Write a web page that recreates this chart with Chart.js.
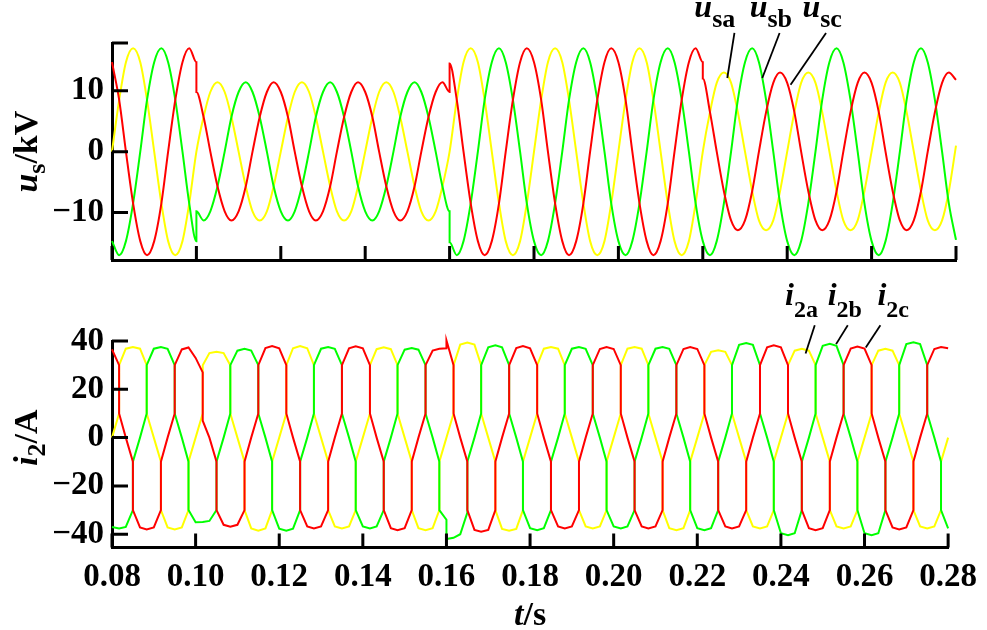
<!DOCTYPE html>
<html>
<head>
<meta charset="utf-8">
<script src="https://cdn.jsdelivr.net/npm/chart.js@4.4.1/dist/chart.umd.min.js"></script>
<style>
  html, body { margin: 0; padding: 0; background: #fff; }
  #wrap { position: relative; width: 987px; height: 630px; }
  #cu { position: absolute; left: 0; top: 0; }
  #ci { position: absolute; left: 0; top: 275px; }
</style>
</head>
<body>
<div id="wrap">
  <canvas id="cu" width="987" height="275"></canvas>
  <canvas id="ci" width="987" height="355"></canvas>
</div>
<script>
// x axis ticks (s)
const timeTicks = [0.08, 0.10, 0.12, 0.14, 0.16, 0.18, 0.20, 0.22, 0.24, 0.26, 0.28];
const uTicks = [-10, 0, 10];
const iTicks = [-40, -20, 0, 20, 40];

// voltage samples, kV (step changes at 0.10, 0.16, 0.22 s are doubled time points)
const tU = [
  0.0800, 0.0817, 0.0833, 0.0850, 0.0867, 0.0883, 0.0900, 0.0917, 0.0933, 0.0950, 0.0967, 0.0983, 0.1000,
  0.1000, 0.1017, 0.1033, 0.1050, 0.1067, 0.1083, 0.1100, 0.1117, 0.1133, 0.1150, 0.1167, 0.1183,
  0.1200, 0.1217, 0.1233, 0.1250, 0.1267, 0.1283, 0.1300, 0.1317, 0.1333, 0.1350, 0.1367, 0.1383,
  0.1400, 0.1417, 0.1433, 0.1450, 0.1467, 0.1483, 0.1500, 0.1517, 0.1533, 0.1550, 0.1567, 0.1583, 0.1600,
  0.1600, 0.1617, 0.1633, 0.1650, 0.1667, 0.1683, 0.1700, 0.1717, 0.1733, 0.1750, 0.1767, 0.1783,
  0.1800, 0.1817, 0.1833, 0.1850, 0.1867, 0.1883, 0.1900, 0.1917, 0.1933, 0.1950, 0.1967, 0.1983,
  0.2000, 0.2017, 0.2033, 0.2050, 0.2067, 0.2083, 0.2100, 0.2117, 0.2133, 0.2150, 0.2167, 0.2183, 0.2200,
  0.2200, 0.2217, 0.2233, 0.2250, 0.2267, 0.2283, 0.2300, 0.2317, 0.2333, 0.2350, 0.2367, 0.2383,
  0.2400, 0.2417, 0.2433, 0.2450, 0.2467, 0.2483, 0.2500, 0.2517, 0.2533, 0.2550, 0.2567, 0.2583,
  0.2600, 0.2617, 0.2633, 0.2650, 0.2667, 0.2683, 0.2700, 0.2717, 0.2733, 0.2750, 0.2767, 0.2783, 0.2800
];
const usa = [
  0, 8.5, 14.7, 17.0, 14.7, 8.5, 0, -8.5, -14.7, -17.0, -14.7, -8.5, 0,
  null, 5.7, 9.8, 11.4, 9.8, 5.7, 0, -5.7, -9.8, -11.3, -9.8, -5.7,
  0, 5.7, 9.8, 11.4, 9.8, 5.7, 0, -5.7, -9.8, -11.3, -9.8, -5.7,
  0, 5.7, 9.8, 11.4, 9.8, 5.7, 0, -5.7, -9.8, -11.3, -9.8, -5.7, 0,
  null, 8.5, 14.7, 17.0, 14.7, 8.5, 0, -8.5, -14.7, -17.0, -14.7, -8.5,
  0, 8.5, 14.7, 17.0, 14.7, 8.5, 0, -8.5, -14.7, -17.0, -14.7, -8.5,
  0, 8.5, 14.7, 17.0, 14.7, 8.5, 0, -8.5, -14.7, -17.0, -14.7, -8.5, 0,
  null, 6.5, 11.3, 13.0, 11.3, 6.5, 0, -6.5, -11.3, -12.9, -11.3, -6.5,
  0, 6.5, 11.3, 13.0, 11.3, 6.5, 0, -6.5, -11.3, -12.9, -11.3, -6.5,
  0, 6.5, 11.3, 13.0, 11.3, 6.5, 0, -6.5, -11.3, -12.9, -11.3, -6.5, 1.0
];
const usb = [
  -14.7, -17.0, -14.7, -8.5, 0, 8.5, 14.7, 17.0, 14.7, 8.5, 0, -8.5, -14.7,
  -9.8, -11.3, -9.8, -5.7, 0, 5.7, 9.8, 11.4, 9.8, 5.7, 0, -5.7,
  -9.8, -11.3, -9.8, -5.7, 0, 5.7, 9.8, 11.4, 9.8, 5.7, 0, -5.7,
  -9.8, -11.3, -9.8, -5.7, 0, 5.7, 9.8, 11.4, 9.8, 5.7, 0, -5.7, -9.8,
  -14.9, -17.0, -14.7, -8.5, 0, 8.5, 14.7, 17.0, 14.7, 8.5, 0, -8.5,
  -14.7, -17.0, -14.7, -8.5, 0, 8.5, 14.7, 17.0, 14.7, 8.5, 0, -8.5,
  -14.7, -17.0, -14.7, -8.5, 0, 8.5, 14.7, 17.0, 14.7, 8.5, 0, -8.5, -14.7,
  null, -17.0, -14.7, -8.5, 0, 8.5, 14.7, 17.0, 14.7, 8.5, 0, -8.5,
  -14.7, -17.0, -14.7, -8.5, 0, 8.5, 14.7, 17.0, 14.7, 8.5, 0, -8.5,
  -14.7, -17.0, -14.7, -8.5, 0, 8.5, 14.7, 17.0, 14.7, 8.5, 0, -8.5, -14.5
];
const usc = [
  14.7, 8.5, 0, -8.5, -14.7, -17.0, -14.7, -8.5, 0, 8.5, 14.7, 17.0, 14.7,
  9.8, 5.7, 0, -5.7, -9.8, -11.3, -9.8, -5.7, 0, 5.7, 9.8, 11.4,
  9.8, 5.7, 0, -5.7, -9.8, -11.3, -9.8, -5.7, 0, 5.7, 9.8, 11.4,
  9.8, 5.7, 0, -5.7, -9.8, -11.3, -9.8, -5.7, 0, 5.7, 9.8, 11.4, 9.8,
  14.5, 8.5, 0, -8.5, -14.7, -17.0, -14.7, -8.5, 0, 8.5, 14.7, 17.0,
  14.7, 8.5, 0, -8.5, -14.7, -17.0, -14.7, -8.5, 0, 8.5, 14.7, 17.0,
  14.7, 8.5, 0, -8.5, -14.7, -17.0, -14.7, -8.5, 0, 8.5, 14.7, 17.0, 14.7,
  12.0, 6.5, 0, -6.5, -11.3, -12.9, -11.3, -6.5, 0, 6.5, 11.3, 13.0,
  11.3, 6.5, 0, -6.5, -11.3, -12.9, -11.3, -6.5, 0, 6.5, 11.3, 13.0,
  11.3, 6.5, 0, -6.5, -11.3, -12.9, -11.3, -6.5, 0, 6.5, 11.3, 13.0, 11.8
];

// current samples, A (commutation steps are doubled time points)
const tI = [
  0.0800, 0.0817, 0.0817, 0.0833, 0.0850, 0.0850, 0.0867, 0.0883, 0.0883, 0.0900, 0.0917, 0.0917, 0.0933, 0.0950, 0.0950, 0.0967, 0.0983, 0.0983,
  0.1000, 0.1017, 0.1017, 0.1033, 0.1050, 0.1050, 0.1067, 0.1083, 0.1083, 0.1100, 0.1117, 0.1117, 0.1133, 0.1150, 0.1150, 0.1167, 0.1183, 0.1183,
  0.1200, 0.1217, 0.1217, 0.1233, 0.1250, 0.1250, 0.1267, 0.1283, 0.1283, 0.1300, 0.1317, 0.1317, 0.1333, 0.1350, 0.1350, 0.1367, 0.1383, 0.1383,
  0.1400, 0.1417, 0.1417, 0.1433, 0.1450, 0.1450, 0.1467, 0.1483, 0.1483, 0.1500, 0.1517, 0.1517, 0.1533, 0.1550, 0.1550, 0.1567, 0.1583, 0.1583,
  0.1600, 0.1600, 0.1617, 0.1617, 0.1633, 0.1650, 0.1650, 0.1667, 0.1683, 0.1683, 0.1700, 0.1717, 0.1717, 0.1733, 0.1750, 0.1750, 0.1767, 0.1783, 0.1783,
  0.1800, 0.1817, 0.1817, 0.1833, 0.1850, 0.1850, 0.1867, 0.1883, 0.1883, 0.1900, 0.1917, 0.1917, 0.1933, 0.1950, 0.1950, 0.1967, 0.1983, 0.1983,
  0.2000, 0.2017, 0.2017, 0.2033, 0.2050, 0.2050, 0.2067, 0.2083, 0.2083, 0.2100, 0.2117, 0.2117, 0.2133, 0.2150, 0.2150, 0.2167, 0.2183, 0.2183,
  0.2200, 0.2217, 0.2217, 0.2233, 0.2250, 0.2250, 0.2267, 0.2283, 0.2283, 0.2300, 0.2317, 0.2317, 0.2333, 0.2350, 0.2350, 0.2367, 0.2383, 0.2383,
  0.2400, 0.2417, 0.2417, 0.2433, 0.2450, 0.2450, 0.2467, 0.2483, 0.2483, 0.2500, 0.2517, 0.2517, 0.2533, 0.2550, 0.2550, 0.2567, 0.2583, 0.2583,
  0.2600, 0.2617, 0.2617, 0.2633, 0.2650, 0.2650, 0.2667, 0.2683, 0.2683, 0.2700, 0.2717, 0.2717, 0.2733, 0.2750, 0.2750, 0.2767, 0.2783, 0.2783,
  0.2800
];
const i2a = [
  0, 10, 30, 36.8, 37.5, 37.5, 36.8, 30, 10, 0, -10, -30, -37.2, -38, -38, -37.2, -30, -10,
  0, 10, 30, 35, 35.5, 35.5, 35, 30, 10, 0, -10, -30, -37.6, -38.5, -38.5, -37.6, -30, -10,
  0, 10, 30, 37, 37.9, 37.9, 37, 30, 10, 0, -10, -30, -36.8, -37.6, -37.6, -36.8, -30, -10,
  0, 10, 30, 36.6, 37.4, 37.4, 36.6, 30, 10, 0, -10, -30, -37.5, -38.3, -38.3, -37.5, -30, -10,
  0, 0, 10, 30, 38.5, 39.4, 39.4, 38.5, 30, 10, 0, -10, -30, -37.8, -38.6, -38.6, -37.8, -30, -10,
  0, 10, 30, 36.8, 37.5, 37.5, 36.8, 30, 10, 0, -10, -30, -36.8, -37.6, -37.6, -36.8, -30, -10,
  0, 10, 30, 36.8, 37.5, 37.5, 36.8, 30, 10, 0, -10, -30, -37.5, -38.3, -38.3, -37.5, -30, -10,
  0, 10, 30, 35.5, 36.2, 36.2, 35.5, 30, 10, 0, -10, -30, -36.8, -37.6, -37.6, -36.8, -30, -10,
  0, 10, 30, 36, 36.8, 36.8, 36, 30, 10, 0, -10, -30, -36.8, -37.6, -37.6, -36.8, -30, -10,
  0, 10, 30, 36, 36.8, 36.8, 36, 30, 10, 0, -10, -30, -36.8, -37.6, -37.6, -36.8, -30, -10,
  0
];
const i2b = [
  -37, -37.6, -37.6, -37, -30, -10, 0, 10, 30, 36.8, 37.5, 37.5, 36.8, 30, 10, 0, -10, -30,
  -35, -34.9, -34.9, -34.5, -30, -10, 0, 10, 30, 36, 36.8, 36.8, 36, 30, 10, 0, -10, -30,
  -37.7, -38.5, -38.5, -37.7, -30, -10, 0, 10, 30, 36.8, 37.5, 37.5, 36.8, 30, 10, 0, -10, -30,
  -36.8, -37.6, -37.6, -36.8, -30, -10, 0, 10, 30, 36.4, 37.1, 37.1, 36.4, 30, 10, 0, -10, -30,
  -34, -42, -41.5, -41.5, -40, -31, -10, 0, 10, 30, 37.4, 38.2, 38.2, 37.4, 30, 10, 0, -10, -30,
  -37.5, -38.3, -38.3, -37.5, -30, -10, 0, 10, 30, 36.8, 37.5, 37.5, 36.8, 30, 10, 0, -10, -30,
  -36.8, -37.6, -37.6, -36.8, -30, -10, 0, 10, 30, 36.8, 37.5, 37.5, 36.8, 30, 10, 0, -10, -30,
  -37.5, -38.3, -38.3, -37.5, -30, -10, 0, 10, 30, 38.4, 39.2, 39.2, 38.4, 30, 10, 0, -10, -30,
  -39.6, -40.4, -40.4, -39.6, -30, -10, 0, 10, 30, 38, 38.8, 38.8, 38, 30, 10, 0, -10, -30,
  -39.6, -40.4, -40.4, -39.6, -30, -10, 0, 10, 30, 38.7, 39.5, 39.5, 38.7, 30, 10, 0, -10, -30,
  -37.6
];
const i2c = [
  36.5, 30, 10, 0, -10, -30, -37.2, -38, -38, -37.2, -30, -10, 0, 10, 30, 36.5, 37.3, 37.3,
  33, 27, 7, 0, -10, -30, -36.1, -36.9, -36.9, -36.1, -30, -10, 0, 10, 30, 37.1, 37.9, 37.9,
  37, 30, 10, 0, -10, -30, -36.8, -37.6, -37.6, -36.8, -30, -10, 0, 10, 30, 37, 37.8, 37.8,
  37, 30, 10, 0, -10, -30, -37.5, -38.3, -38.3, -37.5, -30, -10, 0, 10, 30, 36, 36.8, 36.8,
  37, 40.3, 30, 10, 0, -10, -30, -38.2, -39, -39, -38.2, -30, -10, 0, 10, 30, 37.1, 37.9, 37.9,
  37, 30, 10, 0, -10, -30, -36.8, -37.6, -37.6, -36.8, -30, -10, 0, 10, 30, 36.7, 37.5, 37.5,
  36.7, 30, 10, 0, -10, -30, -36.8, -37.6, -37.6, -36.8, -30, -10, 0, 10, 30, 36.7, 37.5, 37.5,
  36.7, 30, 10, 0, -10, -30, -36.8, -37.6, -37.6, -36.8, -30, -10, 0, 10, 30, 37.4, 38.2, 38.2,
  37.4, 30, 10, 0, -10, -30, -37.5, -38.3, -38.3, -37.5, -30, -10, 0, 10, 30, 36.9, 37.7, 37.7,
  36.9, 30, 10, 0, -10, -30, -37.2, -38, -38, -37.2, -30, -10, 0, 10, 30, 36.7, 37.5, 37.5,
  37
];

const FAMILY = '"Liberation Serif", "Times New Roman", serif';
const YELLOW = '#ffff00', GREEN = '#00ff00', RED = '#ff0000';

function f(size, style) {
  return (style || 'bold') + ' ' + size + 'px ' + FAMILY;
}

// draws a run of text pieces (used for italic symbols and subscripts)
function drawRich(ctx, parts, x, y, align) {
  let w = 0;
  const widths = parts.map(p => {
    ctx.font = p.font;
    const pw = ctx.measureText(p.text).width;
    w += pw;
    return pw;
  });
  let cx = align === 'center' ? x - w / 2 : x;
  parts.forEach((p, i) => {
    ctx.font = p.font;
    ctx.fillText(p.text, cx, y + (p.dy || 0));
    cx += widths[i];
  });
}

const deco = {
  id: 'deco',
  afterDraw(chart, args, o) {
    const { ctx, chartArea: a, scales: { x, y } } = chart;
    ctx.save();
    ctx.strokeStyle = '#000';
    ctx.fillStyle = '#000';
    ctx.lineWidth = 3;
    ctx.beginPath();
    timeTicks.forEach(v => {
      const px = x.getPixelForValue(v);
      ctx.moveTo(px, a.bottom);
      ctx.lineTo(px, a.bottom - 14);
    });
    o.yMarks.forEach(v => {
      const py = y.getPixelForValue(v);
      ctx.moveTo(a.left, py);
      ctx.lineTo(a.left + 16, py);
    });
    ctx.stroke();

    ctx.textBaseline = 'alphabetic';
    ctx.save();
    ctx.translate(o.yTitleX, y.getPixelForValue(0));
    ctx.rotate(-Math.PI / 2);
    drawRich(ctx, o.yTitle, 0, 0, 'center');
    ctx.restore();

    ctx.lineWidth = 1.8;
    o.labels.forEach(l => {
      drawRich(ctx, l.parts, x.getPixelForValue(l.at[0]), y.getPixelForValue(l.at[1]), 'left');
      ctx.beginPath();
      ctx.moveTo(x.getPixelForValue(l.from[0]), y.getPixelForValue(l.from[1]));
      ctx.lineTo(x.getPixelForValue(l.to[0]), y.getPixelForValue(l.to[1]));
      ctx.stroke();
    });

    if (o.xTitle) drawRich(ctx, o.xTitle, (a.left + a.right) / 2, o.xTitleY, 'center');
    ctx.restore();
  }
};

function line(t, vals, color, order, smooth) {
  return {
    data: t.map((x, i) => ({ x: x, y: vals[i] })),
    borderColor: color,
    borderWidth: 2,
    pointRadius: 0,
    fill: false,
    order: order,
    clip: false,
    spanGaps: true,
    tension: 0,
    cubicInterpolationMode: smooth ? 'monotone' : 'default'
  };
}

function options(cfg) {
  return {
    responsive: false,
    animation: false,
    devicePixelRatio: 1,
    events: [],
    layout: { padding: { top: cfg.padTop, right: 31, left: 0, bottom: 0 } },
    plugins: { legend: { display: false }, tooltip: { enabled: false }, deco: cfg.deco },
    scales: {
      x: {
        type: 'linear',
        min: 0.08,
        max: 0.28,
        afterBuildTicks: s => { s.ticks = timeTicks.map(v => ({ value: v })); },
        afterFit: s => { s.height = cfg.xHeight; },
        grid: { display: false, drawTicks: false },
        border: { display: true, color: '#000', width: 3 },
        ticks: {
          display: cfg.showX,
          autoSkip: false,
          maxRotation: 0,
          padding: 10,
          color: '#000',
          font: { family: FAMILY, size: 33, weight: 'bold' },
          callback: v => v.toFixed(2)
        }
      },
      y: {
        min: cfg.yMin,
        max: cfg.yMax,
        afterBuildTicks: s => { s.ticks = cfg.yTicks.map(v => ({ value: v })); },
        afterFit: s => { s.width = 112; s.paddingTop = 0; s.paddingBottom = 0; },
        grid: { display: false, drawTicks: false },
        border: { display: true, color: '#000', width: 3 },
        ticks: {
          padding: 8,
          color: '#000',
          font: { family: FAMILY, size: 33, weight: 'bold' },
          callback: v => (v < 0 ? '\u2212' + (-v) : String(v))
        }
      }
    }
  };
}

new Chart(document.getElementById('cu'), {
  type: 'line',
  data: {
    datasets: [
      line(tU, usa, YELLOW, 2, true),
      line(tU, usb, GREEN, 1, true),
      line(tU, usc, RED, 0, true)
    ]
  },
  options: options({
    padTop: 43, xHeight: 15, showX: false,
    yMin: -17.8, yMax: 17.85, yTicks: uTicks,
    deco: {
      yMarks: [-10, 0, 10, 17.85],
      yTitleX: 37,
      yTitle: [
        { text: 'u', font: f(34, 'italic bold') },
        { text: 's', font: f(26), dy: 8 },
        { text: '/kV', font: f(34) }
      ],
      labels: [
        { parts: [{ text: 'u', font: f(32, 'italic bold') }, { text: 'sa', font: f(26), dy: 10 }],
          at: [0.2180, 22.2], from: [0.2275, 19.5], to: [0.2258, 12.1] },
        { parts: [{ text: 'u', font: f(32, 'italic bold') }, { text: 'sb', font: f(26), dy: 10 }],
          at: [0.2311, 22.2], from: [0.2382, 19.5], to: [0.2341, 12.1] },
        { parts: [{ text: 'u', font: f(32, 'italic bold') }, { text: 'sc', font: f(26), dy: 10 }],
          at: [0.2436, 22.2], from: [0.2492, 19.5], to: [0.2408, 11.0] }
      ]
    }
  }),
  plugins: [deco]
});

new Chart(document.getElementById('ci'), {
  type: 'line',
  data: {
    datasets: [
      line(tI, i2a, YELLOW, 2, false),
      line(tI, i2b, GREEN, 1, false),
      line(tI, i2c, RED, 0, false)
    ]
  },
  options: options({
    padTop: 66, xHeight: 82.5, showX: true,
    yMin: -45.5, yMax: 40, yTicks: iTicks,
    deco: {
      yMarks: iTicks,
      yTitleX: 37,
      yTitle: [
        { text: 'i', font: f(34, 'italic bold') },
        { text: '2', font: f(26), dy: 8 },
        { text: '/A', font: f(34) }
      ],
      labels: [
        { parts: [{ text: 'i', font: f(32, 'italic bold') }, { text: '2a', font: f(24), dy: 12 }],
          at: [0.2410, 54.8], from: [0.2481, 46.5], to: [0.2459, 34.8] },
        { parts: [{ text: 'i', font: f(32, 'italic bold') }, { text: '2b', font: f(24), dy: 12 }],
          at: [0.2512, 54.8], from: [0.2560, 46.5], to: [0.2532, 38.7] },
        { parts: [{ text: 'i', font: f(32, 'italic bold') }, { text: '2c', font: f(24), dy: 12 }],
          at: [0.2631, 54.8], from: [0.2638, 46.5], to: [0.2603, 37.3] }
      ],
      xTitle: [
        { text: 't', font: f(34, 'italic bold') },
        { text: '/s', font: f(34) }
      ],
      xTitleY: 350
    }
  }),
  plugins: [deco]
});
</script>
</body>
</html>
